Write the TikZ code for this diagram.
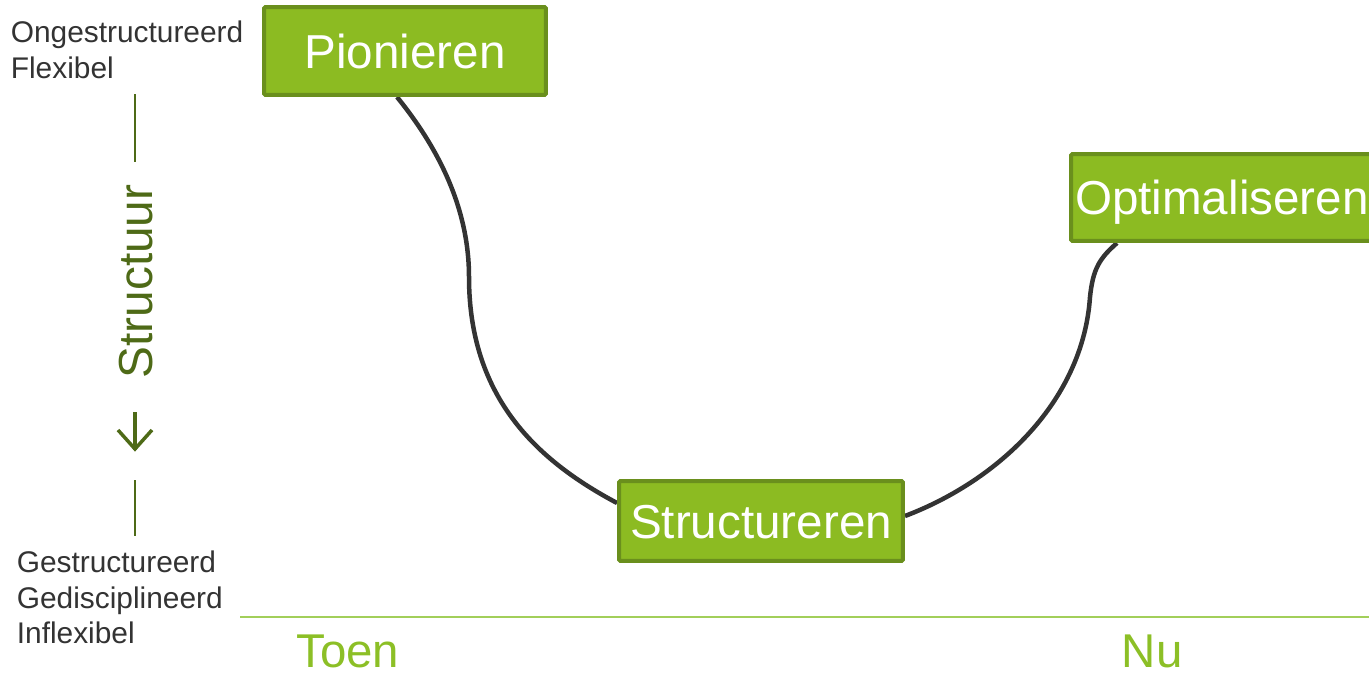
\documentclass[tikz,border=0pt]{standalone}
\usepackage{fontspec}
\setmainfont{Liberation Sans}
\usetikzlibrary{backgrounds,calc}
\definecolor{boxfill}{HTML}{8CBB22}
\definecolor{boxline}{HTML}{6A8F1D}
\definecolor{olive}{HTML}{4E6A17}
\definecolor{lightgreen}{HTML}{8CBF26}
\definecolor{axisline}{HTML}{A2CF5A}
\definecolor{txtgray}{HTML}{333333}
\tikzset{
  phase/.style={draw=boxline, fill=boxfill, line width=0.08cm, rounded corners=0.03cm,
    text=white, inner sep=0pt, font=\fontsize{27.1}{30}\selectfont,
    text height=19.4pt, text depth=0pt},
  sidelabel/.style={anchor=base west, text=txtgray, inner sep=0pt, font=\fontsize{17}{20}\selectfont},
  timelabel/.style={anchor=base west, text=lightgreen, inner sep=0pt, font=\fontsize{27}{30}\selectfont},
  curveline/.style={draw=txtgray, line width=0.09cm},
  oliveline/.style={draw=olive, line width=0.04cm}
}
\begin{document}
\begin{tikzpicture}[x=0.02cm, y=-0.02cm]
\useasboundingbox (0,0) rectangle (1369,676);
% phase boxes
\node[phase, minimum width=5.64cm, minimum height=1.76cm] (pion) at (405,51) {Pionieren};
\node[phase, minimum width=5.68cm, minimum height=1.60cm] (struct) at (761,521) {Structureren};
\node[phase, anchor=west, minimum height=1.74cm, text width=8cm, align=left, inner xsep=0.08cm] (optim) at (1069,197.5) {Optimaliseren};
% curve
\coordinate (k1) at (469,277);
\coordinate (k2) at (1090,297);
\begin{pgfonlayer}{background}
\draw[curveline] ([xshift=-0.16cm]pion.south) .. controls (440,150) and (469,210) .. (k1)
  .. controls (469,400) and (540,462) .. ([yshift=0.36cm]struct.west);
\draw[curveline] ([yshift=0.1cm]struct.east) .. controls (1000,480) and (1083,400) .. (k2)
  .. controls (1093,268) and (1100,258) .. ([xshift=0.96cm]optim.south west);
\end{pgfonlayer}
% left side labels
\node[sidelabel] (ong) at (10.5,42) {Ongestructureerd};
\node[sidelabel] (flex) at (10.5,78) {Flexibel};
\node[sidelabel] (gest) at (16.5,572) {Gestructureerd};
\node[sidelabel] (gedis) at (16.5,608) {Gedisciplineerd};
\node[sidelabel] (infl) at (16.5,643) {Inflexibel};
% structuur axis
\node[rotate=90, text=olive, inner sep=0pt, font=\fontsize{27.2}{30}\selectfont,
  text height=19.5pt, text depth=0pt] (structuur) at (135.5,281.5) {Structuur};
\draw[oliveline] (135,94) -- (135,162);
\draw[oliveline] (135,480) -- (135,536);
\draw[draw=olive, line width=0.07cm, miter limit=10] (135,412) -- (135,450);
\draw[draw=olive, line width=0.07cm, miter limit=10] (118,430) -- (135,449) -- (152,430);
% time axis
\draw[draw=axisline, line width=0.04cm] (240,617) -- (1369,617);
\node[timelabel] (toen) at (296,667) {Toen};
\node[timelabel] (nu) at (1121.5,667) {Nu};
\end{tikzpicture}
\end{document}
